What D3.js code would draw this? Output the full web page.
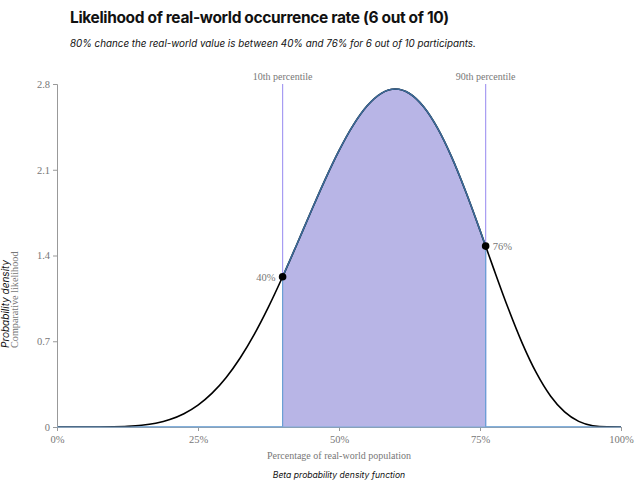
<!DOCTYPE html>
<html><head><meta charset="utf-8">
<script src="https://cdn.jsdelivr.net/npm/d3@7"></script>
<style>
body{margin:0;background:#fff;}
svg{display:block;}
</style></head>
<body>
<svg id="chart" width="640" height="497"></svg>
<script>
// Data (Beta density, 6 out of 10)
const xValues = [0,0.025,0.05,0.075,0.1,0.125,0.15,0.175,0.2,0.225,0.25,0.275,0.3,0.325,0.35,0.375,0.4,0.425,0.45,0.475,0.5,0.525,0.55,0.575,0.6,0.625,0.65,0.675,0.7,0.725,0.75,0.76,0.775,0.8,0.825,0.85,0.875,0.9,0.925,0.95,0.975,1];
const densityValues = [0,0,0.00003,0.0003,0.0015,0.0052,0.0137,0.0307,0.0606,0.1081,0.1784,0.276,0.4043,0.5651,0.758,0.9802,1.2263,1.488,1.7552,2.0157,2.2559,2.4623,2.6221,2.7238,2.759,2.7228,2.6143,2.4377,2.2013,1.9185,1.606,1.4769,1.2828,0.9689,0.6831,0.4411,0.2531,0.1228,0.0458,0.0106,0.0008,0];
const percentileX = [0.40, 0.76];
const percentileDensity = [1.2263, 1.4769];
const percentileNames = ["10th percentile", "90th percentile"];
const percentileLabels = ["40%", "76%"];
const yTicks = [0, 0.7, 1.4, 2.1, 2.8];
const xTicks = [0, 0.25, 0.5, 0.75, 1];

const data = xValues.map((x,i)=>({x, y: densityValues[i]}));

const svg = d3.select("#chart");
const margin = {left:57, right:19, top:84, bottom:70};
const W = 640, H = 497;
const x = d3.scaleLinear().domain([0,1]).range([margin.left, W - margin.right]);
const y = d3.scaleLinear().domain([0,2.8]).range([H - margin.bottom, margin.top]);

const serif = "'Liberation Serif','Times New Roman',serif";
const sans = "Inter,'Noto Sans',sans-serif";

// Title
svg.append("text").attr("x",70).attr("y",23).attr("font-family",sans).attr("font-weight",700)
  .attr("font-size",15.5).attr("fill","#111").attr("letter-spacing","-0.35")
  .text("Likelihood of real-world occurrence rate (6 out of 10)");
svg.append("text").attr("x",70).attr("y",47).attr("font-family",sans).attr("font-style","italic")
  .attr("font-size",9.8).attr("fill","#111")
  .text("80% chance the real-world value is between 40% and 76% for 6 out of 10 participants.");

// Percentile lines
percentileX.forEach((p,i)=>{
  svg.append("line").attr("x1",x(p)).attr("x2",x(p)).attr("y1",y(2.8)).attr("y2",y(0))
    .attr("stroke","#a79cf2").attr("stroke-width",1.2);
  svg.append("text").attr("x",x(p)).attr("y",80).attr("text-anchor","middle")
    .attr("font-family",serif).attr("font-size",10).attr("fill","#777").text(percentileNames[i]);
});

const curve = d3.curveMonotoneX;
svg.append("line").attr("x1",x(0)).attr("x2",x(1)).attr("y1",y(0)).attr("y2",y(0))
  .attr("stroke","#6a9fd4").attr("stroke-width",1.5);

// Shaded interval
const inner = data.filter(d=>d.x>=percentileX[0]-1e-9 && d.x<=percentileX[1]+1e-9);
const area = d3.area().x(d=>x(d.x)).y0(y(0)).y1(d=>y(d.y)).curve(curve);
svg.append("path").datum(inner).attr("d",area).attr("fill","#b8b5e6").attr("stroke","none");
percentileX.forEach((p,i)=>{
  svg.append("line").attr("x1",x(p)).attr("x2",x(p)).attr("y1",y(percentileDensity[i])).attr("y2",y(0))
    .attr("stroke","#6a9fd4").attr("stroke-width",1.2);
});

// Black full curve
const line = d3.line().x(d=>x(d.x)).y(d=>y(d.y)).curve(curve);
svg.append("path").datum(data).attr("d",line).attr("fill","none").attr("stroke","#000").attr("stroke-width",1.6);
svg.append("path").datum(inner).attr("d",line).attr("fill","none").attr("stroke","#3b6a9a").attr("stroke-width",1.6);

// Axes
const xAxis = d3.axisBottom(x).tickValues(xTicks).tickFormat(d3.format(".0%")).tickSize(4);
const gx = svg.append("g").attr("transform",`translate(0,${y(0)})`).call(xAxis);
gx.select(".domain").attr("stroke","#999");
gx.selectAll(".tick line").attr("stroke","#999");
gx.selectAll("text").attr("font-family",serif).attr("font-size",10.5).attr("fill","#777").attr("dy","0.9em");

const yAxis = d3.axisLeft(y).tickValues(yTicks).tickFormat(d=>d===0?"0":d3.format(".1f")(d)).tickSize(4);
const gy = svg.append("g").attr("transform",`translate(${x(0)},0)`).call(yAxis);
gy.select(".domain").attr("stroke","#999");
gy.selectAll(".tick line").attr("stroke","#999");
gy.selectAll("text").attr("font-family",serif).attr("font-size",10.5).attr("fill","#777");

svg.append("line").attr("x1",x(0)).attr("x2",x(1)).attr("y1",y(0)).attr("y2",y(0))
  .attr("stroke","#7aaad8").attr("stroke-width",1.2);

// Dots and labels
percentileX.forEach((p,i)=>{
  svg.append("circle").attr("cx",x(p)).attr("cy",y(percentileDensity[i])).attr("r",3.8).attr("fill","#000");
  svg.append("text").attr("x", i===0 ? x(p)-7 : x(p)+7).attr("y",y(percentileDensity[i])+4)
    .attr("text-anchor", i===0 ? "end" : "start")
    .attr("font-family",serif).attr("font-size",10.5).attr("fill","#777").text(percentileLabels[i]);
});

// Axis titles
svg.append("text").attr("x",x(0.5)).attr("y",459).attr("text-anchor","middle")
  .attr("font-family",serif).attr("font-size",10).attr("fill","#777").text("Percentage of real-world population");
svg.append("text").attr("x",x(0.5)).attr("y",478).attr("text-anchor","middle")
  .attr("font-family",sans).attr("font-style","italic").attr("font-size",8.6).attr("fill","#111").text("Beta probability density function");

const yl = svg.append("g").attr("transform","translate(9,348) rotate(-90)");
yl.append("text").attr("x",0).attr("y",0).attr("text-anchor","start").attr("font-family",sans)
  .attr("font-style","italic").attr("font-size",10).attr("fill","#111").text("Probability density");
yl.append("text").attr("x",0).attr("y",8.5).attr("text-anchor","start").attr("font-family",serif)
  .attr("font-size",10.2).attr("fill","#777").text("Comparative likelihood");
</script>
</body></html>
